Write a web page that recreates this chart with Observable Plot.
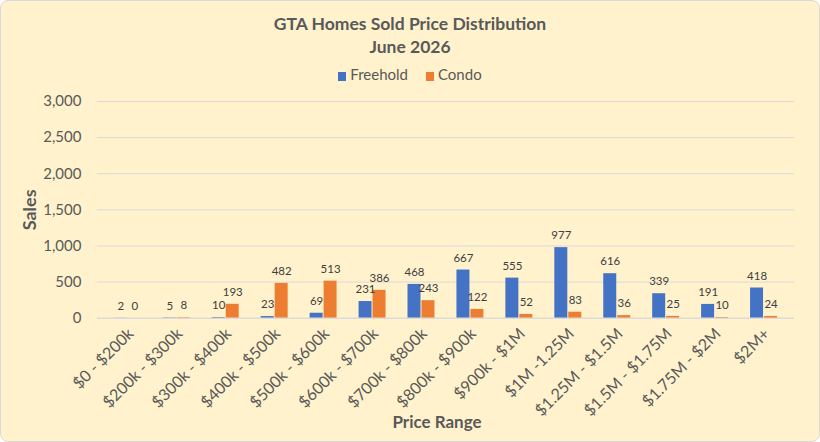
<!DOCTYPE html>
<html>
<head>
<meta charset="utf-8">
<script src="https://cdn.jsdelivr.net/npm/d3@7"></script>
<script src="https://cdn.jsdelivr.net/npm/@observablehq/plot@0.6"></script>
<style>
  html, body { margin: 0; padding: 0; background: #ffffff; }
  #wrap {
    position: relative; width: 820px; height: 442px; box-sizing: border-box;
    background: #FFF2CC; border: 1px solid #d9d9d9; border-radius: 8px; overflow: hidden;
    font-family: Lato, "Open Sans", sans-serif; color: #595959;
  }
  .title { position: absolute; left: 0; width: 100%; text-align: center; font-weight: bold; font-size: 17.5px; }
  #legend { position: absolute; top: 64px; left: 0; width: 100%; text-align: center; font-size: 15px; }
  #legend span.item { display: inline-block; margin: 0 9px; }
  #legend i { display: inline-block; width: 8px; height: 9px; margin-right: 4px; vertical-align: -1px; }
  #chart { position: absolute; left: -1px; top: 89px; }
</style>
</head>
<body>
<div id="wrap">
  <div class="title" style="top:12px">GTA Homes Sold Price Distribution</div>
  <div class="title" style="top:35px">June 2026</div>
  <div id="legend"></div>
  <div id="chart"></div>
</div>
<script>
const categories = ["$0 - $200k", "$200k - $300k", "$300k - $400k", "$400k - $500k", "$500k - $600k", "$600k - $700k", "$700k - $800k", "$800k - $900k", "$900k - $1M", "$1M -1.25M", "$1.25M - $1.5M", "$1.5M - $1.75M", "$1.75M - $2M", "$2M+"];
const freehold = [2, 5, 10, 23, 69, 231, 468, 667, 555, 977, 616, 339, 191, 418];
const condo = [0, 8, 193, 482, 513, 386, 243, 122, 52, 83, 36, 25, 10, 24];
const seriesNames = ["Freehold", "Condo"];
const seriesColors = ["#4472C4", "#ED7D31"];
const yTicks = [0, 500, 1000, 1500, 2000, 2500, 3000];

const fh = categories.map((c, i) => ({category: c, value: freehold[i]}));
const cd = categories.map((c, i) => ({category: c, value: condo[i]}));

const legend = document.getElementById("legend");
seriesNames.forEach((n, i) => {
  const s = document.createElement("span");
  s.className = "item";
  s.innerHTML = `<i style="background:${seriesColors[i]}"></i>${n}`;
  legend.appendChild(s);
});

const chart = Plot.plot({
  width: 820,
  height: 351,
  marginLeft: 97,
  marginRight: 25,
  marginTop: 11,
  marginBottom: 123,
  style: {background: "transparent", fontFamily: "Lato, 'Open Sans', sans-serif", color: "#595959"},
  x: {domain: categories, padding: 0, label: null},
  y: {domain: [0, 3000], label: null},
  marks: [
    Plot.gridY(yTicks, {stroke: "#d9d9d9", strokeOpacity: 1}),
    Plot.axisY(yTicks, {tickSize: 0, tickPadding: 16, fontSize: 15, fill: "#595959", tickFormat: d3.format(","), label: null}),
    Plot.barY(fh, {x: "category", y: "value", fill: seriesColors[0], insetLeft: 11, insetRight: 25}),
    Plot.barY(cd, {x: "category", y: "value", fill: seriesColors[1], insetLeft: 25, insetRight: 11}),
    Plot.ruleY([0], {stroke: "#d9d9d9"}),
    Plot.text(fh, {x: "category", y: "value", text: d => d3.format(",")(d.value), dx: -7, dy: -12, fontSize: 11.5, fill: "#404040"}),
    Plot.text(cd, {x: "category", y: "value", text: d => d3.format(",")(d.value), dx: 7, dy: -12, fontSize: 11.5, fill: "#404040"}),
    Plot.axisX({tickSize: 0, tickPadding: 13, tickRotate: -45, fontSize: 16, fill: "#595959", label: null, dx: 3}),
    Plot.text(["Sales"], {frameAnchor: "left", dx: -67, rotate: -90, fontSize: 18, fontWeight: "bold", fill: "#595959", lineAnchor: "middle", textAnchor: "middle"}),
    Plot.text(["Price Range"], {frameAnchor: "bottom", dy: 104, dx: -9, fontSize: 17, fontWeight: "bold", fill: "#595959", lineAnchor: "middle", textAnchor: "middle"})
  ]
});
document.getElementById("chart").appendChild(chart);
</script>
</body>
</html>
